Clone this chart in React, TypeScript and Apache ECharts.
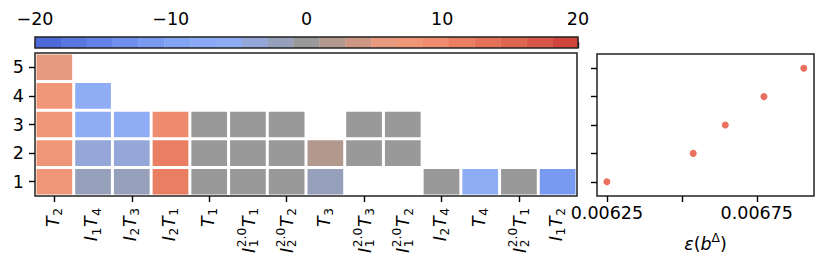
import React, { useEffect, useRef } from 'react';
import * as echarts from 'echarts';

const FONT = 'DejaVu Sans';
const FS = 17.5;
const FS_SMALL = 12.3;

// Heatmap categories (column ids) and their mathtext-like labels
const CATEGORIES = ['T2', 'I1T4', 'I2T3', 'I2T1', 'T1', 'I1^2T1', 'I2^2T2', 'T3', 'I1^2T3', 'I1^2T2', 'I2T4', 'T4', 'I2^2T1', 'I1T2'];
// i = italic symbol, s = subscript, z = subscript stacked under the next superscript, p = superscript
const CATEGORY_LABELS = [
  '{i|T}{s|2}',
  '{i|I}{s|1}{i|T}{s|4}',
  '{i|I}{s|2}{i|T}{s|3}',
  '{i|I}{s|2}{i|T}{s|1}',
  '{i|T}{s|1}',
  '{i|I}{z|1}{p|2.0}{i|T}{s|1}',
  '{i|I}{z|2}{p|2.0}{i|T}{s|2}',
  '{i|T}{s|3}',
  '{i|I}{z|1}{p|2.0}{i|T}{s|3}',
  '{i|I}{z|1}{p|2.0}{i|T}{s|2}',
  '{i|I}{s|2}{i|T}{s|4}',
  '{i|T}{s|4}',
  '{i|I}{z|2}{p|2.0}{i|T}{s|1}',
  '{i|I}{s|1}{i|T}{s|2}',
];
const ROWS = ['1', '2', '3', '4', '5'];

// cell values per row (null = empty)
const ROW1 = [7.5, -1.5, -1.5, 11.5, 0, 0, 0, -1.5, null, null, 0, -6, 0, -11];
const ROW2 = [7.5, -3.5, -3.5, 11.5, 0, 0, 0, 2, 0, 0, null, null, null, null];
const ROW3 = [7.5, -6, -6, 9.5, 0, 0, 0, null, 0, 0, null, null, null, null];
const ROW4 = [7.5, -6, null, null, null, null, null, null, null, null, null, null, null, null];
const ROW5 = [5.5, null, null, null, null, null, null, null, null, null, null, null, null, null];
const ROW_VALUES = [ROW1, ROW2, ROW3, ROW4, ROW5];

// colorbar
const CBAR_MIN = -20;
const CBAR_MAX = 20;
const CBAR_TICK_INTERVAL = 10;
const BIN_COLORS = [
  '#4e69d8', '#5877df', '#6384e6', '#6e8fec', '#789af1', '#83a3f5', '#8aaaf7', '#8fadf4',
  '#94a7d8', '#97a0bb', '#999999', '#b3988e', '#cd9683', '#e89a7e', '#f09678', '#ef8b6e',
  '#e97e62', '#e47259', '#de6550', '#d85647', '#d0463c',
];

// scatter
const EPSILON = [0.00625, 0.006538, 0.006645, 0.006774, 0.006907];
const EPS_TICKS = [0.00625, 0.0065, 0.00675];
const EPS_LABELS = [0.00625, 0.00675];

function colorFor(v: number) {
  const n = BIN_COLORS.length;
  let k = Math.floor(((v - CBAR_MIN) / (CBAR_MAX - CBAR_MIN)) * n);
  k = Math.max(0, Math.min(n - 1, k));
  return BIN_COLORS[k];
}

const RICH: any = {
  i: { fontFamily: FONT, fontSize: FS, fontStyle: 'italic', lineHeight: 24, color: '#000' },
  p: { fontFamily: FONT, fontSize: FS_SMALL, lineHeight: 13, verticalAlign: 'top', color: '#000' },
  n: { fontFamily: FONT, fontSize: FS, lineHeight: 24, color: '#000' },
};

const AXIS_COLOR = '#222';
const SUB_DY = 5.2;
const SUP_DY = -6.5;

let measureCtx: CanvasRenderingContext2D | null = null;
function textWidth(text: string, font: string) {
  if (!measureCtx) measureCtx = document.createElement('canvas').getContext('2d');
  measureCtx!.font = font;
  return measureCtx!.measureText(text).width;
}

type Piece = { text: string; x: number; y: number; italic: boolean; size: number };
function layoutLabel(label: string) {
  const re = /\{(\w)\|([^}]*)\}/g;
  const tokens: { t: string; s: string }[] = [];
  let m;
  while ((m = re.exec(label))) tokens.push({ t: m[1], s: m[2] });
  const fItalic = `italic ${FS}px ${FONT}`;
  const fSmall = `${FS_SMALL}px ${FONT}`;
  const pieces: Piece[] = [];
  let x = 0;
  let pending = 0;
  let minY = -FS * 0.365;
  let maxY = FS * 0.365;
  const capS = FS_SMALL * 0.365;
  for (const tk of tokens) {
    if (tk.t === 'i') {
      pieces.push({ text: tk.s, x, y: 0, italic: true, size: FS });
      x += textWidth(tk.s, fItalic) + 0.6;
    } else if (tk.t === 's') {
      pieces.push({ text: tk.s, x, y: SUB_DY, italic: false, size: FS_SMALL });
      x += textWidth(tk.s, fSmall) + 0.6;
      maxY = Math.max(maxY, SUB_DY + capS);
    } else if (tk.t === 'z') {
      pieces.push({ text: tk.s, x, y: SUB_DY, italic: false, size: FS_SMALL });
      pending = textWidth(tk.s, fSmall);
      maxY = Math.max(maxY, SUB_DY + capS);
    } else if (tk.t === 'p') {
      pieces.push({ text: tk.s, x, y: SUP_DY, italic: false, size: FS_SMALL });
      x += Math.max(pending, textWidth(tk.s, fSmall)) + 0.6;
      pending = 0;
      minY = Math.min(minY, SUP_DY - capS);
    }
  }
  const W = x - 0.6;
  const shift = -(minY + maxY) / 2;
  return pieces.map((p) => ({ ...p, x: p.x - W, y: p.y + shift }));
}

export default function App() {
  const ref = useRef<HTMLDivElement>(null);
  useEffect(() => {
    document.body.style.margin = '0';
    const chart = echarts.init(ref.current!, null, { renderer: 'svg' });

    const cbarData: any[] = BIN_COLORS.map((_c, k) => {
      const w = (CBAR_MAX - CBAR_MIN) / BIN_COLORS.length;
      return [CBAR_MIN + k * w, CBAR_MIN + (k + 1) * w, k];
    });
    cbarData.push([CBAR_MIN, CBAR_MAX, -1]);

    const cells: any[] = [];
    ROW_VALUES.forEach((row, r) => {
      row.forEach((v, c) => {
        if (v !== null) cells.push([c, r, v]);
      });
    });

    const labelLayouts = CATEGORY_LABELS.map(layoutLabel);

    const tick = { show: true, length: 6, lineStyle: { color: '#000', width: 1.4 } };

    chart.setOption({
      animation: false,
      grid: [
        { left: 35, right: 252, top: 37, height: 11, show: false },
        { left: 35, right: 253, top: 53, bottom: 73, show: true, borderColor: AXIS_COLOR, borderWidth: 1.5, backgroundColor: 'transparent' },
        { left: 597, right: 16, top: 54, bottom: 73, show: true, borderColor: AXIS_COLOR, borderWidth: 1.5, backgroundColor: 'transparent' },
      ],
      xAxis: [
        {
          gridIndex: 0, type: 'value', position: 'top', min: CBAR_MIN, max: CBAR_MAX, interval: CBAR_TICK_INTERVAL,
          axisLine: { show: false }, splitLine: { show: false }, axisTick: tick,
          axisLabel: {
            fontSize: FS, color: '#000', fontFamily: FONT, margin: 9,
            formatter: (v: number) => (v < 0 ? '\u2212' + Math.abs(v) : String(v)),
          },
        },
        {
          gridIndex: 1, type: 'category', data: CATEGORIES,
          axisLine: { show: false }, splitLine: { show: false },
          axisTick: { ...tick, alignWithLabel: true },
          axisLabel: { show: false },
        },
        {
          gridIndex: 2, type: 'value', min: 0.006217, max: 0.006941,
          axisLine: { show: false }, splitLine: { show: false },
          axisTick: { ...tick, customValues: EPS_TICKS },
          axisLabel: {
            fontSize: FS, color: '#000', fontFamily: FONT, margin: 8, customValues: EPS_LABELS,
            formatter: (v: number) => v.toFixed(5),
          },
          name: '{i|ε}{n|(}{i|b}{p|Δ}{n|)}',
          nameLocation: 'middle', nameGap: 36,
          nameTextStyle: { rich: RICH },
        },
      ],
      yAxis: [
        { gridIndex: 0, type: 'value', min: 0, max: 1, show: false },
        {
          gridIndex: 1, type: 'category', data: ROWS,
          axisLine: { show: false }, splitLine: { show: false },
          axisTick: { ...tick, alignWithLabel: true },
          axisLabel: { fontSize: FS, color: '#000', fontFamily: FONT, margin: 11 },
        },
        {
          gridIndex: 2, type: 'category', data: ROWS,
          axisLine: { show: false }, splitLine: { show: false },
          axisTick: { ...tick, alignWithLabel: true },
          axisLabel: { show: false },
        },
      ],
      series: [
        {
          type: 'custom', xAxisIndex: 0, yAxisIndex: 0, data: cbarData,
          renderItem: (_p: any, api: any) => {
            const lo = api.value(0), hi = api.value(1), k = api.value(2);
            const a = api.coord([lo, 0]);
            const b = api.coord([hi, 1]);
            if (k < 0) {
              return {
                type: 'rect', z2: 10,
                shape: { x: a[0], y: b[1], width: b[0] - a[0], height: a[1] - b[1] },
                style: { fill: 'none', stroke: AXIS_COLOR, lineWidth: 1.5 },
              };
            }
            return {
              type: 'rect',
              shape: { x: a[0], y: b[1], width: b[0] - a[0] + 0.3, height: a[1] - b[1] },
              style: { fill: BIN_COLORS[k] },
            };
          },
        },
        {
          type: 'custom', xAxisIndex: 1, yAxisIndex: 1, data: cells,
          renderItem: (_p: any, api: any) => {
            const c = api.coord([api.value(0), api.value(1)]);
            const s = api.size([1, 1]);
            const g = 1.5;
            return {
              type: 'rect',
              shape: { x: c[0] - s[0] / 2 + g, y: c[1] - s[1] / 2 + g, width: s[0] - 2 * g, height: s[1] - 2 * g },
              style: { fill: colorFor(api.value(2)) },
            };
          },
        },
        {
          // rotated mathtext-like category labels, built from plain text pieces
          type: 'custom', xAxisIndex: 1, yAxisIndex: 1, clip: false,
          data: CATEGORIES.map((_c, i) => [i, 0]),
          renderItem: (params: any, api: any) => {
            const i = api.value(0);
            const c = api.coord([i, 0]);
            const cs = params.coordSys;
            return {
              type: 'group',
              x: c[0],
              y: cs.y + cs.height + 12,
              rotation: Math.PI / 2,
              children: labelLayouts[i].map((p) => ({
                type: 'text',
                x: p.x,
                y: p.y,
                style: {
                  text: p.text,
                  fontSize: p.size,
                  fontFamily: FONT,
                  fontStyle: p.italic ? 'italic' : 'normal',
                  fill: '#000',
                  align: 'left',
                  verticalAlign: 'middle',
                },
              })),
            };
          },
        },
        {
          type: 'scatter', xAxisIndex: 2, yAxisIndex: 2,
          data: EPSILON.map((e, i) => [e, ROWS[i]]),
          symbolSize: 7,
          itemStyle: { color: '#e34b37' },
        },
      ],
    });
    return () => chart.dispose();
  }, []);
  return <div ref={ref} style={{ width: 830, height: 269 }} />;
}
